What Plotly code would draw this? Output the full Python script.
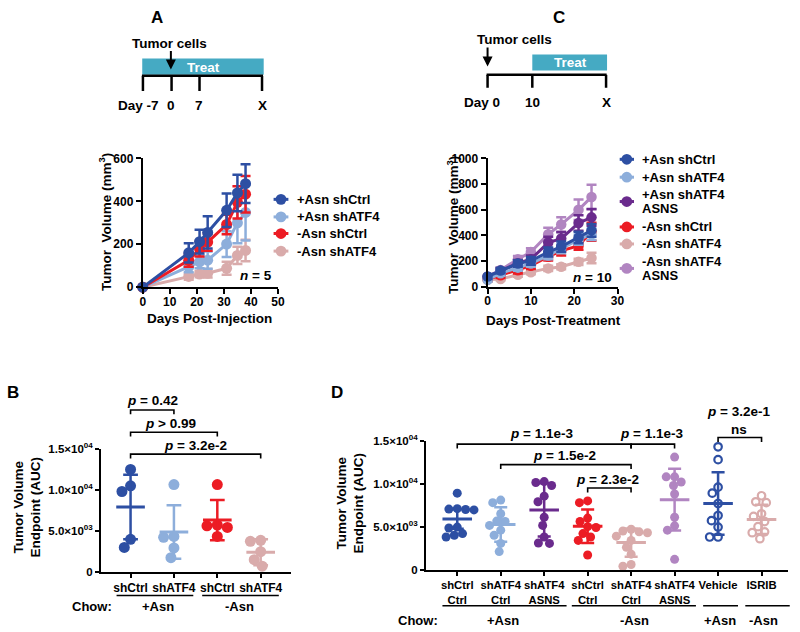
import numpy as np
import plotly.graph_objects as go

W, H = 800, 632
FONT = "Arial, Liberation Sans, sans-serif"

DKBLUE = "#2D4FA3"
LTBLUE = "#8DAEDB"
RED = "#EC1C24"
PINK = "#D9ABAB"
PURPLE = "#6A2B8D"
LILAC = "#B185C1"
TEAL = "#45AAC3"

# ---------------- panel A: tumour growth, days post-injection
a_days = [0, 17, 21, 24, 31, 35, 38]
a_pos_shctrl = [0, 160, 212, 255, 358, 439, 482]
a_pos_shctrl_err = [0, 45, 55, 75, 78, 85, 90]
a_pos_shatf4 = [0, 95, 118, 126, 201, 300, 348]
a_pos_shatf4_err = [0, 25, 30, 40, 60, 95, 130]
a_neg_shctrl = [0, 125, 178, 210, 292, 395, 433]
a_neg_shctrl_err = [0, 30, 35, 40, 45, 75, 85]
a_neg_shatf4 = [0, 50, 61, 65, 88, 148, 171]
a_neg_shatf4_err = [0, 15, 15, 20, 30, 40, 50]
a_names = ["+Asn shCtrl", "+Asn shATF4", "-Asn shCtrl", "-Asn shATF4"]

# ---------------- panel C: tumour growth, days post-treatment
c_days = [0, 3, 7, 10, 14, 17, 21, 24]
c_pos_shctrl = [81, 127, 182, 203, 271, 314, 385, 440]
c_pos_shctrl_err = [20, 20, 25, 30, 35, 40, 45, 50]
c_pos_shatf4 = [56, 106, 150, 182, 245, 296, 367, 410]
c_pos_shatf4_err = [15, 20, 25, 25, 30, 35, 40, 45]
c_pos_asns = [80, 125, 185, 215, 345, 376, 497, 541]
c_pos_asns_err = [15, 20, 25, 30, 45, 50, 60, 65]
c_neg_shctrl = [60, 90, 130, 165, 235, 280, 320, 430]
c_neg_shctrl_err = [15, 20, 25, 25, 30, 35, 30, 70]
c_neg_shatf4 = [55, 61, 94, 114, 144, 157, 195, 225]
c_neg_shatf4_err = [10, 10, 15, 15, 20, 20, 25, 40]
c_neg_asns = [80, 132, 215, 271, 410, 486, 600, 700]
c_neg_asns_err = [15, 20, 25, 30, 50, 55, 80, 95]
c_names = [["+Asn shCtrl"], ["+Asn shATF4"], ["+Asn shATF4", "ASNS"],
           ["-Asn shCtrl"], ["-Asn shATF4"], ["-Asn shATF4", "ASNS"]]

# ---------------- panel B: endpoint AUC
b_labels = ["shCtrl", "shATF4", "shCtrl", "shATF4"]
b_points = [
    [12500, 10500, 9800, 3950, 2950],
    [10650, 4300, 4200, 2900, 1700],
    [10650, 5700, 5600, 5400, 4300],
    [3830, 3710, 2440, 1460, 660],
]
b_mean = [7900, 4850, 6300, 2370]
b_sd = [3950, 3270, 2470, 1580]
b_colors = [DKBLUE, LTBLUE, RED, PINK]

# ---------------- panel D: endpoint AUC
d_labels = ["shCtrl<br>Ctrl", "shATF4<br>Ctrl", "shATF4<br>ASNS", "shCtrl<br>Ctrl",
            "shATF4<br>Ctrl", "shATF4<br>ASNS", "Vehicle", "ISRIB"]
d_points = [
    [8900, 7100, 7050, 7000, 6950, 4950, 4850, 4200, 4000, 3800],
    [8100, 7800, 6500, 5650, 5600, 5150, 4600, 4000, 3050, 2100],
    [10250, 10150, 8550, 9800, 7900, 6100, 5150, 3800, 3100, 3050],
    [8000, 7800, 6000, 5600, 5000, 4900, 4200, 3800, 3400, 1700],
    [4700, 4500, 4400, 4300, 3900, 3400, 2600, 1800, 600, 400],
    [13100, 10800, 10800, 10200, 9800, 8800, 6100, 5100, 4600, 1200],
    [14300, 12800, 9600, 8900, 7700, 6300, 5700, 4950, 3800, 3800],
    [8600, 7900, 7800, 6500, 6200, 5600, 5000, 4400, 4300, 3600],
]
d_mean = [5900, 5250, 6950, 5050, 3150, 8150, 7700, 5850]
d_sd = [1150, 2000, 3100, 1950, 1650, 3600, 3650, 1700]
d_colors = [DKBLUE, LTBLUE, PURPLE, RED, PINK, LILAC, DKBLUE, PINK]
d_open = [False] * 6 + [True, True]

auc_ticks = [0, 5000, 10000, 15000]
auc_ticktext = ["0", "5.0×10<sup>03</sup>", "1.0×10<sup>04</sup>", "1.5×10<sup>04</sup>"]


def fx(x):
    return x / W


def fy(y):
    return 1 - y / H


fig = go.Figure()


def txt(x, y, s, size=13.5, xa="center", ya="middle", angle=0, color="black"):
    fig.add_annotation(x=fx(x), y=fy(y), xref="paper", yref="paper", text=s,
                       showarrow=False, xanchor=xa, yanchor=ya, textangle=angle,
                       borderpad=0,
                       font=dict(family=FONT, size=size, color=color, weight="bold"))


def seg(x0, y0, x1, y1, w=2, c="black"):
    fig.add_shape(type="line", xref="paper", yref="paper", x0=fx(x0), y0=fy(y0),
                  x1=fx(x1), y1=fy(y1), line=dict(color=c, width=w))


def dot(cx, cy, r, c):
    fig.add_shape(type="circle", xref="paper", yref="paper", x0=fx(cx - r), x1=fx(cx + r),
                  y0=fy(cy + r), y1=fy(cy - r), fillcolor=c, line=dict(width=0))


def bracket(x0, x1, y, tip=4.5):
    fig.add_shape(type="path", xref="paper", yref="paper",
                  path=f"M {fx(x0)},{fy(y + tip)} L {fx(x0)},{fy(y)} L {fx(x1)},{fy(y)} L {fx(x1)},{fy(y + tip)}",
                  line=dict(color="black", width=1.6))


def arrow_down(x, y_tail, y_tip):
    fig.add_annotation(x=fx(x), y=fy(y_tip), xref="paper", yref="paper", ax=0, ay=-(y_tip - y_tail),
                       text="", showarrow=True, arrowhead=2, arrowsize=1, arrowwidth=2, arrowcolor="black")


def swarm(values, ypx, xpx, diam):
    # simple beeswarm: offset each point sideways until it no longer overlaps
    placed = []
    offs = {}
    for i in sorted(range(len(values)), key=lambda k: -values[k]):
        y = values[i] * ypx
        cands = [0.0]
        for yy, xx in placed:
            dy = y - yy
            if abs(dy) < diam:
                dx = np.sqrt(diam ** 2 - dy ** 2)
                cands += [xx + dx, xx - dx]
        cands.sort(key=lambda c: (abs(c), c))
        for c in cands:
            if all((c - xx) ** 2 + (y - yy) ** 2 >= diam ** 2 - 1e-6 for yy, xx in placed):
                break
        placed.append((y, c))
        offs[i] = c / xpx
    return [offs[i] for i in range(len(values))]


# ---------------- growth curves
a_series = [
    (a_neg_shatf4, a_neg_shatf4_err, PINK),
    (a_pos_shatf4, a_pos_shatf4_err, LTBLUE),
    (a_neg_shctrl, a_neg_shctrl_err, RED),
    (a_pos_shctrl, a_pos_shctrl_err, DKBLUE),
]
for vals, err, col in a_series:
    fig.add_trace(go.Scatter(x=a_days, y=vals, mode="lines+markers", xaxis="x", yaxis="y",
                             line=dict(color=col, width=3), marker=dict(size=11, color=col),
                             error_y=dict(type="data", array=err, color=col, thickness=2.5, width=5),
                             cliponaxis=False, showlegend=False))

c_series = [
    (c_neg_asns, c_neg_asns_err, LILAC),
    (c_neg_shatf4, c_neg_shatf4_err, PINK),
    (c_neg_shctrl, c_neg_shctrl_err, RED),
    (c_pos_asns, c_pos_asns_err, PURPLE),
    (c_pos_shatf4, c_pos_shatf4_err, LTBLUE),
    (c_pos_shctrl, c_pos_shctrl_err, DKBLUE),
]
for vals, err, col in c_series:
    fig.add_trace(go.Scatter(x=c_days, y=vals, mode="lines+markers", xaxis="x2", yaxis="y2",
                             line=dict(color=col, width=3), marker=dict(size=10.5, color=col),
                             error_y=dict(type="data", array=err, color=col, thickness=2.5, width=5),
                             cliponaxis=False, showlegend=False))

# ---------------- scatter dot plots
B_DOM = (99.3, 291.7, 0.32, 4.70)
D_DOM = (428.3, 795.0, 0.28, 8.61)
b_xpx = (B_DOM[1] - B_DOM[0]) / (B_DOM[3] - B_DOM[2])
d_xpx = (D_DOM[1] - D_DOM[0]) / (D_DOM[3] - D_DOM[2])
b_ypx = (577.3 - 451.7) / 15000
d_ypx = (575.3 - 443.3) / 15000

for i, pts in enumerate(b_points):
    off = swarm(pts, b_ypx, b_xpx, 10.5)
    fig.add_trace(go.Scatter(x=[i + 1 + o for o in off], y=pts, mode="markers", xaxis="x3", yaxis="y3",
                             marker=dict(size=11, color=b_colors[i]), cliponaxis=False, showlegend=False))

for i, pts in enumerate(d_points):
    off = swarm(pts, d_ypx, d_xpx, 8.5)
    if d_open[i]:
        mk = dict(size=7.5, color=d_colors[i], symbol="circle-open", line=dict(width=2.2, color=d_colors[i]))
    else:
        mk = dict(size=9, color=d_colors[i])
    fig.add_trace(go.Scatter(x=[i + 1 + o for o in off], y=pts, mode="markers", xaxis="x4", yaxis="y4",
                             marker=mk, cliponaxis=False, showlegend=False))


def mean_sd(xr, yr, means, sds, cols, half=0.33, cap=0.16):
    for i, (m, s) in enumerate(zip(means, sds)):
        p = i + 1
        c = cols[i]
        kw = dict(type="line", xref=xr, yref=yr, layer="above")
        fig.add_shape(x0=p - half, x1=p + half, y0=m, y1=m, line=dict(color=c, width=3), **kw)
        fig.add_shape(x0=p, x1=p, y0=m - s, y1=m + s, line=dict(color=c, width=2.5), **kw)
        fig.add_shape(x0=p - cap, x1=p + cap, y0=m + s, y1=m + s, line=dict(color=c, width=2.5), **kw)
        fig.add_shape(x0=p - cap, x1=p + cap, y0=m - s, y1=m - s, line=dict(color=c, width=2.5), **kw)


mean_sd("x3", "y3", b_mean, b_sd, b_colors, 0.33, 0.17)
mean_sd("x4", "y4", d_mean, d_sd, d_colors, 0.34, 0.15)

# ---------------- axes
tick_font = dict(family=FONT, size=12, color="black", weight="bold")
base = dict(showline=True, linecolor="black", linewidth=2, ticks="outside", ticklen=5, tickwidth=2,
            tickcolor="black", showgrid=False, zeroline=False, tickfont=tick_font, fixedrange=True)

fig.update_layout(
    xaxis=dict(base, domain=[fx(141.5), fx(278.5)], range=[0, 50], tickvals=[0, 10, 20, 30, 40, 50],
               ticklabelstandoff=-3, anchor="y"),
    yaxis=dict(base, domain=[fy(286), fy(154)], range=[0, 600], tickvals=[0, 200, 400, 600], anchor="x"),
    xaxis2=dict(base, domain=[fx(490.7), fx(622.3)], range=[0, 30], tickvals=[0, 10, 20, 30],
                ticklabelstandoff=-3, anchor="y2"),
    yaxis2=dict(base, domain=[fy(285.7), fy(154)], range=[0, 1000], tickvals=[0, 200, 400, 600, 800, 1000], anchor="x2"),
    xaxis3=dict(base, domain=[fx(B_DOM[0]), fx(B_DOM[1])], range=[B_DOM[2], B_DOM[3]], tickvals=[1, 2, 3, 4],
                ticktext=b_labels, ticklen=4, tickfont=dict(tick_font, size=12), anchor="y3"),
    yaxis3=dict(base, domain=[fy(577.3), fy(451.7)], range=[0, 15000], tickvals=auc_ticks, ticktext=auc_ticktext,
                ticklen=4, tickfont=dict(tick_font, size=11.5), anchor="x3"),
    xaxis4=dict(base, domain=[fx(D_DOM[0]), fx(D_DOM[1])], range=[D_DOM[2], D_DOM[3]], tickvals=list(range(1, 9)),
                ticktext=d_labels, ticklen=4, tickfont=dict(tick_font, size=11.3), anchor="y4"),
    yaxis4=dict(base, domain=[fy(575.3), fy(443.3)], range=[0, 15000], tickvals=auc_ticks, ticktext=auc_ticktext,
                ticklen=4, tickfont=dict(tick_font, size=11.5), anchor="x4"),
)

# ---------------- schematics
txt(156, 10, "A", size=17)
txt(563, 10, "C", size=17)
txt(10, 394, "B", size=17)
txt(338, 394, "D", size=17)

# panel A timeline
fig.add_shape(type="rect", xref="paper", yref="paper", x0=fx(141), x1=fx(264), y0=fy(68.3), y1=fy(51.7),
              fillcolor=TEAL, line=dict(width=0))
txt(202.7, 60.5, "Treat", color="white")
seg(140.7, 69.5, 263.3, 69.5, 2.5)
for tx in [141.7, 170.7, 199, 262.3]:
    seg(tx, 69.5, tx, 85, 2.5)
txt(158.5, 100, "Day -7", xa="right")
txt(170.5, 100, "0")
txt(198.5, 100, "7")
txt(262.3, 100, "X")
txt(168.3, 36.7, "Tumor cells")
arrow_down(170, 43, 63)

# panel C timeline
fig.add_shape(type="rect", xref="paper", yref="paper", x0=fx(536), x1=fx(611.7), y0=fy(64), y1=fy(47.7),
              fillcolor=TEAL, line=dict(width=0))
txt(574.3, 56, "Treat", color="white")
seg(489.7, 68.5, 611.3, 68.5, 2.5)
for tx in [490.7, 536, 610.7]:
    seg(tx, 68.5, tx, 81.7, 2.5)
txt(504.5, 96.7, "Day 0", xa="right")
txt(536, 96.7, "10")
txt(611, 96.7, "X")
txt(518, 32.3, "Tumor cells")
arrow_down(490.7, 39.3, 60)

# ---------------- axis titles / legends for A and C
txt(103.5, 219, "Tumor  Volume (mm<sup>3</sup>)", angle=-90)
txt(209, 318, "Days Post-Injection")
txt(256, 274, "<i>n</i> = 5")
a_leg_cols = [DKBLUE, LTBLUE, RED, PINK]
for name, col, ry in zip(a_names, a_leg_cols, [196, 214, 231, 249]):
    seg(274, ry, 289, ry, 3, col)
    dot(281.5, ry, 5.5, col)
    txt(297, ry, name, size=13, xa="left")

txt(455, 222, "Tumor  Volume (mm<sup>3</sup>)", angle=-90)
txt(557, 320, "Days Post-Treatment")
txt(596.7, 275.7, "<i>n</i> = 10")
c_leg_cols = [DKBLUE, LTBLUE, PURPLE, RED, PINK, LILAC]
c_leg_rows = [[155], [173.3], [191, 205.5], [224.3], [241.7], [259.5, 274]]
for name, col, rows in zip(c_names, c_leg_cols, c_leg_rows):
    ry = sum(rows) / len(rows)
    seg(624.5, ry, 639, ry, 3, col)
    dot(631.7, ry, 5.5, col)
    for line, ly in zip(name, rows):
        txt(646, ly, line, size=13, xa="left")

# ---------------- B / D titles, brackets, group labels
txt(25, 512, "Tumor Volume<br>Endpoint (AUC)", angle=-90)
txt(352, 508, "Tumor Volume<br>Endpoint (AUC)", angle=-90)


def bx(v):
    return B_DOM[0] + (v - B_DOM[2]) * b_xpx


def dx(v):
    return D_DOM[0] + (v - D_DOM[2]) * d_xpx


bracket(bx(1), bx(2), 411.7)
txt((bx(1) + bx(2)) / 2, 402.5, "<i>p</i> = 0.42")
bracket(bx(1), bx(3), 434.5)
txt(170, 425.5, "<i>p</i> &gt; 0.99")
bracket(bx(1), bx(4), 457)
txt(195, 448.3, "<i>p</i> = 3.2e-2")

bracket(dx(1), dx(5) - 0.1, 446.7)
txt(545, 436, "<i>p</i> = 1.1e-3")
bracket(dx(5), dx(6) - 0.04, 446.7)
txt(656.7, 436, "<i>p</i> = 1.1e-3")
bracket(dx(2), dx(5) - 0.06, 467.7)
txt(568.3, 458.3, "<i>p</i> = 1.5e-2")
bracket(dx(4), dx(5) - 0.08, 491.7)
txt(611.7, 483.3, "<i>p</i> = 2.3e-2")
bracket(dx(7), dx(8), 440)
txt(745, 431.5, "ns")
txt(745, 413.3, "<i>p</i> = 3.2e-1")

seg(115, 601.7, 192.7, 601.7, 1.5)
seg(201.7, 601.7, 279.3, 601.7, 1.5)
txt(90, 613.3, "Chow:", size=13)
txt(156.7, 613.3, "+Asn", size=13)
txt(239.3, 613.3, "-Asn", size=13)

for x0, x1 in [(445, 570.7), (576, 701.7), (709, 744.3), (751.7, 796.7)]:
    seg(x0, 612.3, x1, 612.3, 1.5)
txt(420, 627.7, "Chow:", size=13)
for gx, gl in [(506.7, "+Asn"), (639.3, "-Asn"), (726, "+Asn"), (770, "-Asn")]:
    txt(gx, 627.7, gl, size=13)

fig.update_layout(width=W, height=H, margin=dict(l=0, r=0, t=0, b=0),
                  paper_bgcolor="white", plot_bgcolor="white", showlegend=False,
                  font=dict(family=FONT, color="black"))

# drop the browser's default body margin so the 800x632 figure fills the window exactly
fig.write_html("out.html", config={"displayModeBar": False},
               post_script="document.body.style.margin='0';document.body.style.overflow='hidden';")
